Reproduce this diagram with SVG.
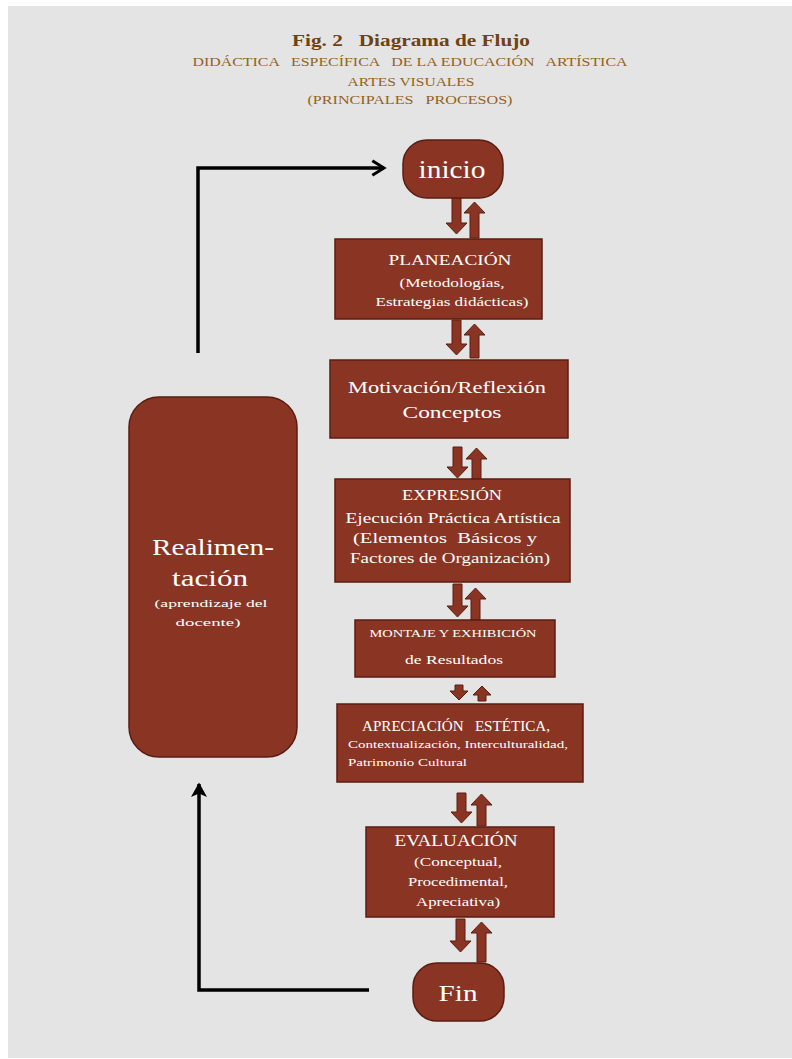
<svg xmlns="http://www.w3.org/2000/svg" width="792" height="1059" viewBox="0 0 792 1059">
<style>
.box{fill:#8a3524;stroke:#5a1d12;stroke-width:1.5}
.t{fill:#ffffff;font-family:"Liberation Serif","DejaVu Serif",serif;text-anchor:middle}
.tl{fill:#ffffff;font-family:"Liberation Serif","DejaVu Serif",serif;text-anchor:start}
.hd{font-family:"Liberation Serif","DejaVu Serif",serif;text-anchor:middle}
.ar{fill:#8a3524;stroke:#5a1d12;stroke-width:1}
.conn{fill:none;stroke:#000000;stroke-width:3.5;stroke-linejoin:miter}
</style>
<defs>
<marker id="chev" viewBox="0 0 12 12" refX="10" refY="6" markerWidth="5" markerHeight="5" orient="auto" markerUnits="strokeWidth">
<path d="M2,1 L10,6 L2,11" fill="none" stroke="#000" stroke-width="2"/>
</marker>
<marker id="tri" viewBox="0 0 12 12" refX="10" refY="6" markerWidth="5" markerHeight="5" orient="auto" markerUnits="strokeWidth">
<path d="M1,0.5 L11,6 L1,11.5 L3.5,6 Z" fill="#000"/>
</marker>
</defs>
<rect x="0" y="0" width="792" height="1059" fill="#ffffff"/>
<rect x="8" y="6" width="784" height="1052" fill="#e4e4e4"/>

<g id="title">
<text class="hd" xml:space="preserve" x="411" y="46" font-size="17" font-weight="bold" fill="#6e4212" textLength="238" lengthAdjust="spacingAndGlyphs">Fig. 2   Diagrama de Flujo</text>
<text class="hd" xml:space="preserve" x="410" y="66" font-size="12.5" fill="#94621a" textLength="435" lengthAdjust="spacingAndGlyphs">DIDÁCTICA   ESPECÍFICA   DE LA EDUCACIÓN   ARTÍSTICA</text>
<text class="hd" x="411" y="86" font-size="12.5" fill="#94621a" textLength="127" lengthAdjust="spacingAndGlyphs">ARTES VISUALES</text>
<text class="hd" xml:space="preserve" x="410" y="104" font-size="12.5" fill="#94621a" textLength="205" lengthAdjust="spacingAndGlyphs">(PRINCIPALES   PROCESOS)</text>
</g>

<g id="connectors">
<path class="conn" d="M198,353 L198,168 L384,168" marker-end="url(#chev)"/>
<path class="conn" d="M369,990 L199,990 L199,784" marker-end="url(#tri)"/>
<path class="ar" d="M452,198 L461,198 L461,223 L467,223 L456.5,234 L446,223 L452,223 Z"/>
<path class="ar" d="M470,238 L479,238 L479,213 L485,213 L474.5,202 L464,213 L470,213 Z"/>
<path class="ar" d="M452,320 L461,320 L461,344 L467,344 L456.5,355 L446,344 L452,344 Z"/>
<path class="ar" d="M470,358 L479,358 L479,335 L485,335 L474.5,324 L464,335 L470,335 Z"/>
<path class="ar" d="M453,447 L462,447 L462,467 L468,467 L457.5,478 L447,467 L453,467 Z"/>
<path class="ar" d="M472,479 L481,479 L481,459 L487,459 L476.5,448 L466,459 L472,459 Z"/>
<path class="ar" d="M453,584 L462,584 L462,606 L468,606 L457.5,617 L447,606 L453,606 Z"/>
<path class="ar" d="M471,620 L480,620 L480,599 L486,599 L475.5,588 L465,599 L471,599 Z"/>
<path class="ar" d="M455,685 L463,685 L463,691 L468,691 L459,700 L450,691 L455,691 Z"/>
<path class="ar" d="M478,701 L486,701 L486,695 L491,695 L482,686 L473,695 L478,695 Z"/>
<path class="ar" d="M457,793 L466,793 L466,812 L472,812 L461.5,823 L451,812 L457,812 Z"/>
<path class="ar" d="M477,826 L486,826 L486,805 L492,805 L481.5,794 L471,805 L477,805 Z"/>
<path class="ar" d="M456,919 L465,919 L465,941 L471,941 L460.5,952 L450,941 L456,941 Z"/>
<path class="ar" d="M477,962 L486,962 L486,933 L492,933 L481.5,922 L471,933 L477,933 Z"/>
</g>

<g id="inicio">
<rect class="box" x="403" y="140" width="100" height="58" rx="24" ry="24"/>
<text class="t" x="452" y="178" font-size="26" textLength="67" lengthAdjust="spacingAndGlyphs">inicio</text>
</g>

<g id="planeacion">
<rect class="box" x="335" y="239" width="207" height="80"/>
<text class="t" x="450" y="265" font-size="15" textLength="123" lengthAdjust="spacingAndGlyphs">PLANEACIÓN</text>
<text class="t" x="452" y="287" font-size="11.5" textLength="105" lengthAdjust="spacingAndGlyphs">(Metodologías,</text>
<text class="t" x="452" y="306" font-size="11.5" textLength="153" lengthAdjust="spacingAndGlyphs">Estrategias didácticas)</text>
</g>

<g id="motivacion">
<rect class="box" x="330" y="360" width="238" height="78"/>
<text class="t" x="447" y="393" font-size="17" textLength="198" lengthAdjust="spacingAndGlyphs">Motivación/Reflexión</text>
<text class="t" x="452" y="418" font-size="17" textLength="99" lengthAdjust="spacingAndGlyphs">Conceptos</text>
</g>

<g id="expresion">
<rect class="box" x="335" y="479" width="235" height="103"/>
<text class="t" x="452" y="500" font-size="15" textLength="100" lengthAdjust="spacingAndGlyphs">EXPRESIÓN</text>
<text class="t" x="453" y="523" font-size="15" textLength="215" lengthAdjust="spacingAndGlyphs">Ejecución Práctica Artística</text>
<text class="t" xml:space="preserve" x="445" y="543" font-size="15" textLength="184" lengthAdjust="spacingAndGlyphs">(Elementos  Básicos y</text>
<text class="t" x="450" y="563" font-size="15" textLength="200" lengthAdjust="spacingAndGlyphs">Factores de Organización)</text>
</g>

<g id="montaje">
<rect class="box" x="355" y="620" width="200" height="57"/>
<text class="t" x="453" y="637" font-size="11" textLength="167" lengthAdjust="spacingAndGlyphs">MONTAJE Y EXHIBICIÓN</text>
<text class="t" x="454" y="664" font-size="12" textLength="98" lengthAdjust="spacingAndGlyphs">de Resultados</text>
</g>

<g id="apreciacion">
<rect class="box" x="337" y="704" width="246" height="78"/>
<text class="t" xml:space="preserve" x="456" y="731" font-size="14" textLength="188" lengthAdjust="spacingAndGlyphs">APRECIACIÓN   ESTÉTICA,</text>
<text class="tl" x="348" y="748" font-size="11" textLength="220" lengthAdjust="spacingAndGlyphs">Contextualización, Interculturalidad,</text>
<text class="tl" x="348" y="766" font-size="11" textLength="119" lengthAdjust="spacingAndGlyphs">Patrimonio Cultural</text>
</g>

<g id="evaluacion">
<rect class="box" x="366" y="827" width="188" height="90"/>
<text class="t" x="456" y="846" font-size="16" textLength="123" lengthAdjust="spacingAndGlyphs">EVALUACIÓN</text>
<text class="t" x="458" y="866" font-size="12" textLength="88" lengthAdjust="spacingAndGlyphs">(Conceptual,</text>
<text class="t" x="458" y="886" font-size="12" textLength="100" lengthAdjust="spacingAndGlyphs">Procedimental,</text>
<text class="t" x="458" y="906" font-size="12" textLength="84" lengthAdjust="spacingAndGlyphs">Apreciativa)</text>
</g>

<g id="fin">
<rect class="box" x="413" y="963" width="91" height="58" rx="24" ry="24"/>
<text class="t" x="458" y="1001" font-size="24" textLength="39" lengthAdjust="spacingAndGlyphs">Fin</text>
</g>

<g id="realimentacion">
<rect class="box" x="129" y="397" width="168" height="360" rx="30" ry="30"/>
<text class="t" x="213" y="555" font-size="24" textLength="122" lengthAdjust="spacingAndGlyphs">Realimen-</text>
<text class="t" x="210" y="586" font-size="24" textLength="76" lengthAdjust="spacingAndGlyphs">tación</text>
<text class="t" x="211" y="607" font-size="11" textLength="113" lengthAdjust="spacingAndGlyphs">(aprendizaje del</text>
<text class="t" x="208" y="626" font-size="11" textLength="65" lengthAdjust="spacingAndGlyphs">docente)</text>
</g>
</svg>
